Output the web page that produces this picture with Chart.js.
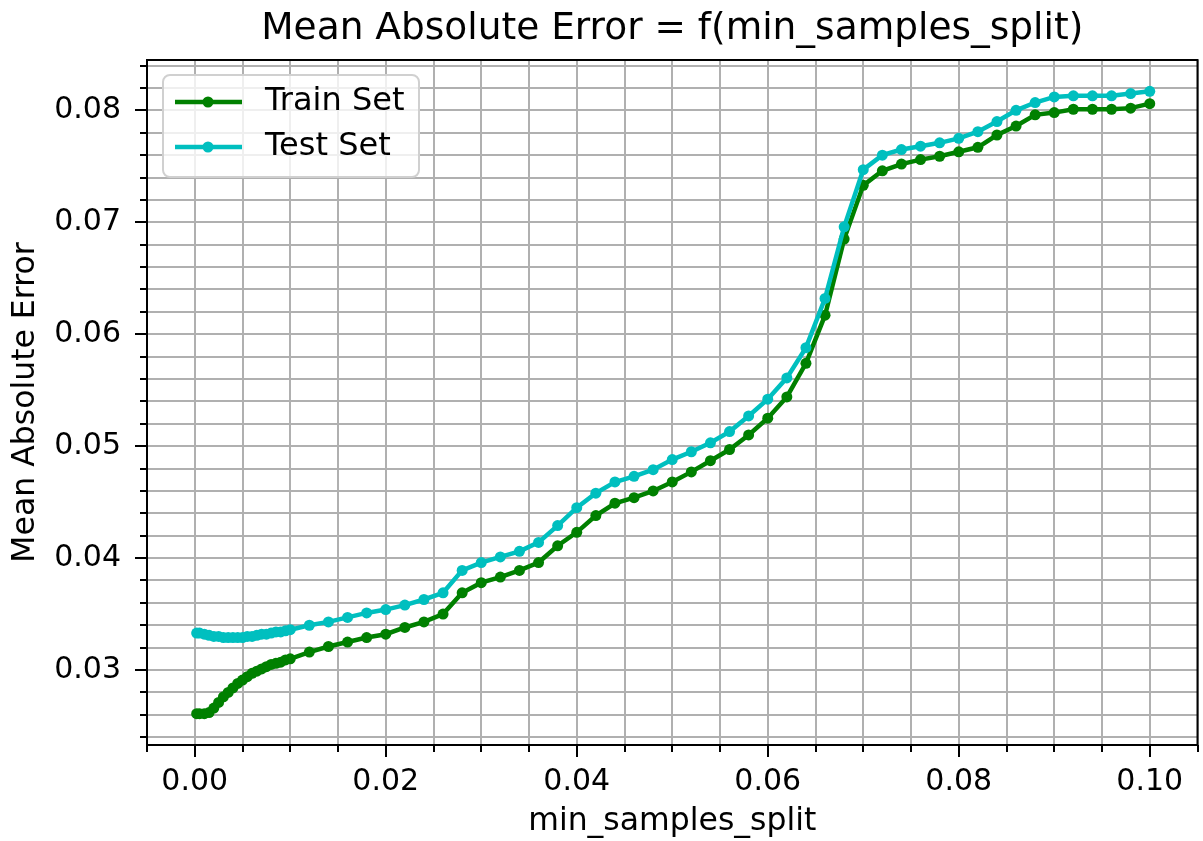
<!DOCTYPE html>
<html>
<head>
<meta charset="utf-8">
<script src="https://cdn.jsdelivr.net/npm/chart.js@4.4.1/dist/chart.umd.min.js"></script>
<style>
  body { margin: 0; background: #fff; }
  canvas { display: block; }
</style>
</head>
<body>
<canvas id="mae-chart" width="1203" height="841"></canvas>
<script>
const FONT = "'DejaVu Sans', sans-serif";

// min_samples_split values
const splitValues = [
  0.0002, 0.0005, 0.001, 0.0015, 0.002, 0.0025, 0.003, 0.0035, 0.004, 0.0045, 0.005,
  0.0055, 0.006, 0.0065, 0.007, 0.0075, 0.008, 0.0085, 0.009, 0.0095, 0.01,
  0.012, 0.014, 0.016, 0.018, 0.020, 0.022, 0.024, 0.026, 0.028, 0.030,
  0.032, 0.034, 0.036, 0.038, 0.040, 0.042, 0.044, 0.046, 0.048, 0.050,
  0.052, 0.054, 0.056, 0.058, 0.060, 0.062, 0.064, 0.066, 0.068, 0.070,
  0.072, 0.074, 0.076, 0.078, 0.080, 0.082, 0.084, 0.086, 0.088, 0.090,
  0.092, 0.094, 0.096, 0.098, 0.100
];

const trainMae = [
  0.0261, 0.0261, 0.0261, 0.0262, 0.0266, 0.0271, 0.0276, 0.0280, 0.0284, 0.0288, 0.0291,
  0.0294, 0.0297, 0.0299, 0.0301, 0.0303, 0.0305, 0.0306, 0.0307, 0.0309, 0.0310,
  0.0316, 0.0321, 0.0325, 0.0329, 0.0332, 0.0338, 0.0343, 0.0350, 0.0369, 0.0378,
  0.0383, 0.0389, 0.0396, 0.0411, 0.0423, 0.0438, 0.0449, 0.0454, 0.0460, 0.0468,
  0.0477, 0.0487, 0.0497, 0.0510, 0.0525, 0.0544, 0.0574, 0.0617, 0.0685, 0.0733,
  0.0746, 0.0752, 0.0756, 0.0759, 0.0763, 0.0767, 0.0778, 0.0786, 0.0796, 0.0798,
  0.0801, 0.0801, 0.0801, 0.0802, 0.0806
];

const testMae = [
  0.0333, 0.0333, 0.0332, 0.0331, 0.0330, 0.0330, 0.0329, 0.0329, 0.0329, 0.0329, 0.0329,
  0.0330, 0.0330, 0.0331, 0.0332, 0.0332, 0.0333, 0.0334, 0.0334, 0.0335, 0.0336,
  0.0340, 0.0343, 0.0347, 0.0351, 0.0354, 0.0358, 0.0363, 0.0369, 0.0389, 0.0396,
  0.0401, 0.0406, 0.0414, 0.0429, 0.0445, 0.0458, 0.0468, 0.0473, 0.0479, 0.0488,
  0.0495, 0.0503, 0.0513, 0.0527, 0.0542, 0.0561, 0.0588, 0.0632, 0.0696, 0.0747,
  0.0760, 0.0765, 0.0768, 0.0771, 0.0775, 0.0781, 0.0790, 0.0800, 0.0807, 0.0812,
  0.0813, 0.0813, 0.0813, 0.0815, 0.0817
];

const xTickLabels = [0.00, 0.02, 0.04, 0.06, 0.08, 0.10];
const yTickLabels = [0.03, 0.04, 0.05, 0.06, 0.07, 0.08];
const seriesNames = ['Train Set', 'Test Set'];
const seriesColors = ['#008000', '#00bfbf'];

function isLabelled(v, list) {
  return list.some(t => Math.abs(t - v) < 1e-7);
}

function toPoints(ys) {
  return splitValues.map((x, i) => ({ x: x, y: ys[i] }));
}

// tick marks (long for labelled ticks, short otherwise), frame and legend
const decorations = {
  id: 'decorations',
  afterDraw(chart) {
    const { ctx, chartArea } = chart;
    const xs = chart.scales.x;
    const ys = chart.scales.y;
    ctx.save();
    ctx.strokeStyle = '#000';
    ctx.lineWidth = 2;
    xs.ticks.forEach(t => {
      const px = Math.round(xs.getPixelForValue(t.value));
      const len = isLabelled(t.value, xTickLabels) ? 12 : 7;
      ctx.beginPath();
      ctx.moveTo(px, chartArea.bottom);
      ctx.lineTo(px, chartArea.bottom + len);
      ctx.stroke();
    });
    ys.ticks.forEach(t => {
      const py = Math.round(ys.getPixelForValue(t.value));
      const len = isLabelled(t.value, yTickLabels) ? 12 : 7;
      ctx.beginPath();
      ctx.moveTo(chartArea.left, py);
      ctx.lineTo(chartArea.left - len, py);
      ctx.stroke();
    });
    ctx.strokeRect(chartArea.left, chartArea.top, chartArea.right - chartArea.left, chartArea.bottom - chartArea.top);

    // legend
    const bx = chartArea.left + 16, by = chartArea.top + 15, bw = 256, bh = 102;
    ctx.beginPath();
    ctx.roundRect(bx, by, bw, bh, 7);
    ctx.fillStyle = 'rgba(255,255,255,0.8)';
    ctx.fill();
    ctx.strokeStyle = '#d0d0d0';
    ctx.lineWidth = 2;
    ctx.stroke();
    chart.data.datasets.forEach((ds, i) => {
      const cy = by + 27 + i * 45;
      ctx.strokeStyle = ds.borderColor;
      ctx.lineWidth = 4.5;
      ctx.beginPath();
      ctx.moveTo(bx + 12, cy);
      ctx.lineTo(bx + 79, cy);
      ctx.stroke();
      ctx.fillStyle = ds.borderColor;
      ctx.beginPath();
      ctx.arc(bx + 45, cy, 5.5, 0, Math.PI * 2);
      ctx.fill();
      ctx.fillStyle = '#000';
      ctx.font = '32px ' + FONT;
      ctx.textBaseline = 'middle';
      ctx.fillText(ds.label, bx + 102, cy);
    });
    ctx.restore();
  }
};

const ctx = document.getElementById('mae-chart').getContext('2d');
const maeChart = new Chart(ctx, {
  type: 'line',
  data: {
    datasets: [
      {
        label: seriesNames[0],
        data: toPoints(trainMae),
        borderColor: seriesColors[0],
        backgroundColor: seriesColors[0],
        borderWidth: 4.5,
        pointRadius: 5.5,
        pointBorderWidth: 0,
        tension: 0,
        order: 1
      },
      {
        label: seriesNames[1],
        data: toPoints(testMae),
        borderColor: seriesColors[1],
        backgroundColor: seriesColors[1],
        borderWidth: 4.5,
        pointRadius: 5.5,
        pointBorderWidth: 0,
        tension: 0,
        order: 0
      }
    ]
  },
  options: {
    responsive: false,
    animation: false,
    layout: { padding: { left: 0, right: -3, top: 0, bottom: 0 } },
    plugins: {
      legend: { display: false },
      tooltip: { enabled: false },
      title: {
        display: true,
        fullSize: false,
        text: 'Mean Absolute Error = f(min_samples_split)',
        color: '#000',
        font: { family: FONT, size: 37.5, weight: 'normal' },
        padding: { top: 7, bottom: 8 }
      }
    },
    scales: {
      x: {
        type: 'linear',
        min: -0.005,
        max: 0.105,
        afterFit: s => { s.height = 96; s.paddingLeft = 0; s.paddingRight = 0; },
        border: { display: false },
        grid: { color: '#b0b0b0', lineWidth: 2, drawTicks: false },
        ticks: {
          stepSize: 0.005,
          autoSkip: false,
          includeBounds: false,
          maxRotation: 0,
          padding: 19,
          color: '#000',
          font: { family: FONT, size: 30 },
          callback: v => isLabelled(v, xTickLabels) ? v.toFixed(2) : ''
        },
        title: {
          display: true,
          text: 'min_samples_split',
          color: '#000',
          font: { family: FONT, size: 31.5 },
          padding: { top: 0, bottom: 0 }
        }
      },
      y: {
        min: 0.0233,
        max: 0.0845,
        afterFit: s => { s.width = 147; s.paddingTop = 0; s.paddingBottom = 0; },
        border: { display: false },
        grid: { color: '#b0b0b0', lineWidth: 2, drawTicks: false },
        ticks: {
          stepSize: 0.002,
          autoSkip: false,
          includeBounds: false,
          padding: 26,
          color: '#000',
          font: { family: FONT, size: 30 },
          callback: v => isLabelled(v, yTickLabels) ? v.toFixed(2) : ''
        },
        title: {
          display: true,
          text: 'Mean Absolute Error',
          color: '#000',
          font: { family: FONT, size: 31.5 },
          padding: { top: 7, bottom: 0 }
        }
      }
    }
  },
  plugins: [decorations]
});
</script>
</body>
</html>
